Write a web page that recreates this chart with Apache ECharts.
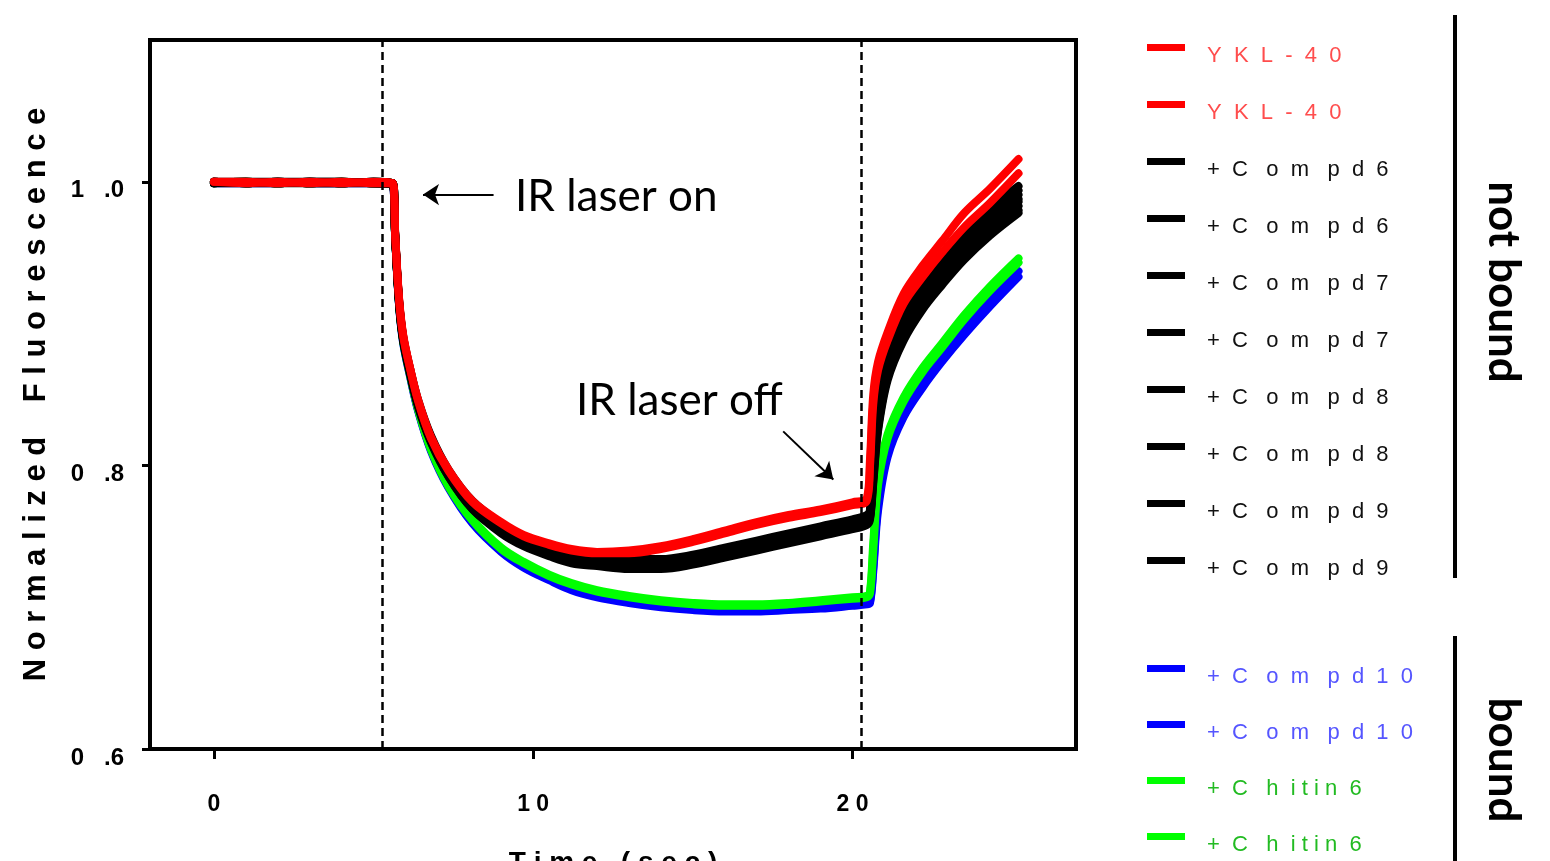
<!DOCTYPE html>
<html>
<head>
<meta charset="utf-8">
<title>Normalized fluorescence</title>
<script src="https://cdn.jsdelivr.net/npm/echarts@6/dist/echarts.min.js"></script>
<style>
  html, body { margin: 0; padding: 0; background: #fff; }
  #chart { width: 1550px; height: 861px; }
</style>
</head>
<body>
<div id="chart"></div>
<script>
// time points (sec), shared by every trace
const times = [0, 1, 2, 3, 4, 5, 5.6, 5.68, 5.8, 5.93, 6.15, 6.4, 6.8, 7.35, 8.1, 9, 9.7, 10.5, 11.2, 12,
  13, 14, 15, 16, 17, 18, 19, 20, 20.45, 20.55, 20.65, 20.8, 21.1, 21.6, 22.2, 22.8, 23.5, 24.3, 25.2];

// normalized fluorescence
const ykl40A = [1.000, 1.000, 0.999, 1.000, 0.999, 1.000, 0.999, 0.962, 0.917, 0.891, 0.868, 0.846, 0.820, 0.797, 0.775, 0.760, 0.751, 0.745, 0.741, 0.739,
  0.740, 0.743, 0.748, 0.754, 0.760, 0.765, 0.769, 0.774, 0.777, 0.805, 0.850, 0.873, 0.894, 0.921, 0.941, 0.958, 0.978, 0.995, 1.016];
const ykl40B = [1.000, 0.999, 1.000, 0.999, 1.000, 0.999, 0.999, 0.963, 0.918, 0.892, 0.868, 0.845, 0.819, 0.796, 0.774, 0.759, 0.750, 0.744, 0.740, 0.738,
  0.738, 0.741, 0.746, 0.752, 0.758, 0.763, 0.767, 0.772, 0.775, 0.800, 0.843, 0.867, 0.888, 0.914, 0.933, 0.950, 0.968, 0.985, 1.006];
const compd6A = [1.000, 0.999, 1.000, 0.999, 1.000, 0.999, 0.999, 0.962, 0.917, 0.891, 0.868, 0.846, 0.821, 0.797, 0.775, 0.759, 0.750, 0.743, 0.738, 0.736,
  0.734, 0.734, 0.737, 0.742, 0.747, 0.752, 0.757, 0.762, 0.765, 0.769, 0.806, 0.843, 0.879, 0.907, 0.929, 0.946, 0.964, 0.981, 0.997];
const compd6B = [0.999, 1.000, 0.999, 1.000, 0.999, 1.000, 0.999, 0.961, 0.916, 0.890, 0.867, 0.845, 0.820, 0.796, 0.773, 0.758, 0.749, 0.742, 0.737, 0.735,
  0.733, 0.733, 0.736, 0.741, 0.746, 0.751, 0.756, 0.761, 0.764, 0.768, 0.803, 0.840, 0.876, 0.904, 0.926, 0.943, 0.961, 0.978, 0.994];
const compd7A = [1.000, 0.999, 0.999, 1.000, 1.000, 0.999, 0.999, 0.962, 0.916, 0.890, 0.866, 0.844, 0.819, 0.795, 0.772, 0.757, 0.748, 0.741, 0.736, 0.734,
  0.732, 0.732, 0.735, 0.740, 0.745, 0.750, 0.755, 0.760, 0.763, 0.767, 0.800, 0.837, 0.873, 0.901, 0.923, 0.940, 0.958, 0.975, 0.991];
const compd7B = [0.999, 0.999, 1.000, 0.999, 0.999, 1.000, 0.998, 0.961, 0.915, 0.889, 0.866, 0.843, 0.818, 0.794, 0.771, 0.756, 0.747, 0.740, 0.735, 0.733,
  0.731, 0.731, 0.734, 0.739, 0.744, 0.749, 0.754, 0.759, 0.762, 0.766, 0.797, 0.834, 0.870, 0.898, 0.920, 0.937, 0.955, 0.972, 0.988];
const compd8A = [1.000, 1.000, 0.999, 0.999, 1.000, 0.999, 0.999, 0.960, 0.915, 0.889, 0.865, 0.843, 0.818, 0.793, 0.770, 0.755, 0.746, 0.739, 0.734, 0.732,
  0.730, 0.730, 0.733, 0.738, 0.743, 0.748, 0.753, 0.758, 0.761, 0.765, 0.795, 0.832, 0.868, 0.896, 0.918, 0.935, 0.953, 0.970, 0.986];
const compd8B = [0.999, 1.000, 1.000, 0.999, 0.999, 0.999, 0.998, 0.960, 0.914, 0.888, 0.865, 0.842, 0.817, 0.793, 0.770, 0.754, 0.745, 0.738, 0.733, 0.731,
  0.729, 0.729, 0.732, 0.737, 0.742, 0.747, 0.752, 0.757, 0.760, 0.764, 0.792, 0.829, 0.865, 0.893, 0.915, 0.932, 0.950, 0.967, 0.983];
const compd9A = [1.000, 0.999, 1.000, 1.000, 0.999, 1.000, 0.999, 0.961, 0.915, 0.888, 0.864, 0.842, 0.817, 0.792, 0.769, 0.753, 0.744, 0.737, 0.732, 0.730,
  0.728, 0.728, 0.731, 0.736, 0.741, 0.746, 0.751, 0.756, 0.759, 0.763, 0.789, 0.826, 0.862, 0.890, 0.912, 0.929, 0.947, 0.964, 0.980];
const compd9B = [0.999, 1.000, 0.999, 1.000, 1.000, 0.999, 0.998, 0.960, 0.914, 0.888, 0.864, 0.841, 0.816, 0.792, 0.769, 0.752, 0.743, 0.736, 0.731, 0.729,
  0.727, 0.727, 0.730, 0.735, 0.740, 0.745, 0.750, 0.755, 0.758, 0.762, 0.787, 0.824, 0.860, 0.888, 0.910, 0.927, 0.945, 0.962, 0.978];
const compd10A = [0.999, 0.999, 1.000, 0.999, 0.999, 1.000, 0.998, 0.960, 0.913, 0.887, 0.863, 0.839, 0.811, 0.785, 0.760, 0.740, 0.729, 0.720, 0.713, 0.708,
  0.704, 0.701, 0.699, 0.698, 0.698, 0.699, 0.700, 0.702, 0.703, 0.704, 0.728, 0.772, 0.810, 0.838, 0.859, 0.877, 0.896, 0.916, 0.937];
const compd10B = [1.000, 0.999, 0.999, 1.000, 0.999, 0.999, 0.999, 0.961, 0.913, 0.886, 0.862, 0.838, 0.810, 0.784, 0.759, 0.739, 0.728, 0.719, 0.712, 0.707,
  0.703, 0.700, 0.698, 0.697, 0.697, 0.698, 0.699, 0.701, 0.702, 0.703, 0.725, 0.768, 0.806, 0.834, 0.855, 0.873, 0.892, 0.912, 0.933];
const chitin6A = [1.000, 0.999, 1.000, 0.999, 1.000, 0.999, 0.999, 0.960, 0.914, 0.888, 0.864, 0.840, 0.812, 0.786, 0.762, 0.742, 0.732, 0.723, 0.717, 0.712,
  0.708, 0.705, 0.703, 0.702, 0.702, 0.703, 0.705, 0.707, 0.708, 0.711, 0.745, 0.790, 0.822, 0.848, 0.869, 0.886, 0.906, 0.926, 0.946];
const chitin6B = [0.999, 1.000, 0.999, 1.000, 0.999, 1.000, 0.999, 0.961, 0.914, 0.887, 0.863, 0.839, 0.811, 0.785, 0.761, 0.741, 0.731, 0.722, 0.716, 0.711,
  0.707, 0.704, 0.702, 0.701, 0.701, 0.702, 0.704, 0.706, 0.707, 0.710, 0.740, 0.786, 0.819, 0.845, 0.866, 0.883, 0.903, 0.923, 0.943];

// axis ticks
const xTicks = [0, 10, 20];
const xTickLabels = ['0', '1 0', '2 0'];
const yTicks = [0.6, 0.8, 1.0];
const yTickLabels = ['0   .6', '0   .8', '1   .0'];

// laser on / off moments (dashed lines)
const laserTimes = [5.28, 20.28];

// series: key, legend text, line colour, legend text colour
const notBound = [
  ['ykl40A', 'Y  K  L  -  4  0', ykl40A, '#ff0000', '#ff4d4d'],
  ['ykl40B', 'Y  K  L  -  4  0', ykl40B, '#ff0000', '#ff4d4d'],
  ['compd6A', '+  C   o  m   p  d  6', compd6A, '#000000', '#111111'],
  ['compd6B', '+  C   o  m   p  d  6', compd6B, '#000000', '#111111'],
  ['compd7A', '+  C   o  m   p  d  7', compd7A, '#000000', '#111111'],
  ['compd7B', '+  C   o  m   p  d  7', compd7B, '#000000', '#111111'],
  ['compd8A', '+  C   o  m   p  d  8', compd8A, '#000000', '#111111'],
  ['compd8B', '+  C   o  m   p  d  8', compd8B, '#000000', '#111111'],
  ['compd9A', '+  C   o  m   p  d  9', compd9A, '#000000', '#111111'],
  ['compd9B', '+  C   o  m   p  d  9', compd9B, '#000000', '#111111']
];
const bound = [
  ['compd10A', '+  C   o  m   p  d  1  0', compd10A, '#0000ff', '#5555ff'],
  ['compd10B', '+  C   o  m   p  d  1  0', compd10B, '#0000ff', '#5555ff'],
  ['chitin6A', '+  C   h  i t i n  6', chitin6A, '#00ff00', '#22bb22'],
  ['chitin6B', '+  C   h  i t i n  6', chitin6B, '#00ff00', '#22bb22']
];

const allTraces = notBound.concat(bound);
const legendText = {};
allTraces.forEach(t => { legendText[t[0]] = t[1]; });

// drawing order: blue, green, black, red on top
const drawOrder = ['compd10B', 'compd10A', 'chitin6B', 'chitin6A',
  'compd9B', 'compd9A', 'compd8B', 'compd8A', 'compd7B', 'compd7A', 'compd6B', 'compd6A',
  'ykl40B', 'ykl40A'];

const series = drawOrder.map(key => {
  const t = allTraces.find(s => s[0] === key);
  return {
    name: key,
    type: 'line',
    color: t[3],
    showSymbol: false,
    smooth: 0.35,
    lineStyle: { width: 8, color: t[3], cap: 'round', join: 'round' },
    data: times.map((x, i) => [x, t[2][i]])
  };
});

// dashed lines and the two arrows
series.push({
  name: 'marks',
  type: 'line',
  data: [],
  z: 10,
  markLine: {
    silent: true,
    animation: false,
    symbol: ['none', 'none'],
    label: { show: false },
    lineStyle: { color: '#000', type: [8, 5], width: 2.5 },
    data: laserTimes.map(v => ({ xAxis: v }))
  }
});
series.push({
  name: 'arrows',
  type: 'line',
  data: [],
  z: 10,
  markLine: {
    silent: true,
    animation: false,
    symbol: ['none', 'arrow'],
    symbolSize: 16,
    label: { show: false },
    lineStyle: { color: '#000', type: 'solid', width: 2 },
    data: [
      [{ coord: [8.76, 0.991] }, { coord: [6.55, 0.991] }],
      [{ coord: [17.83, 0.824] }, { coord: [19.4, 0.790] }]
    ]
  }
});

// legend swatch sits in the top of a taller icon box, so the text hangs a bit lower
const swatchIcon = 'path://M0,0L38,0L38,7L0,7Z M0,22.99L0.01,22.99L0.01,23L0,23Z';
const legendBase = {
  orient: 'vertical',
  left: 1147,
  padding: 0,
  icon: swatchIcon,
  itemWidth: 38,
  itemHeight: 23,
  selectedMode: false,
  formatter: name => legendText[name],
  textStyle: {
    fontFamily: 'Liberation Sans',
    fontSize: 22,
    lineHeight: 22,
    padding: [0, 0, 0, 17]
  }
};

const chart = echarts.init(document.getElementById('chart'));
chart.setOption({
  animation: false,
  backgroundColor: '#fff',
  grid: {
    left: 150, top: 40, right: 474, bottom: 112,
    outerBoundsMode: 'none',
    containLabel: false,
    show: true, borderColor: '#000', borderWidth: 4
  },
  legend: [
    Object.assign({}, legendBase, {
      top: 44, itemGap: 34,
      data: notBound.map(t => ({ name: t[0], textStyle: { color: t[4] } }))
    }),
    Object.assign({}, legendBase, {
      top: 665, itemGap: 33,
      data: bound.map(t => ({ name: t[0], textStyle: { color: t[4] } }))
    })
  ],
  xAxis: {
    type: 'value',
    min: -2, max: 27,
    name: 'T i m e   ( s e c )',
    nameLocation: 'middle',
    nameGap: 100,
    nameTextStyle: { fontFamily: 'Liberation Sans', fontWeight: 'bold', fontSize: 28, color: '#000' },
    splitLine: { show: false },
    axisLine: { show: true, onZero: false, lineStyle: { color: '#000', width: 4 } },
    axisTick: { show: true, length: 10, customValues: xTicks, lineStyle: { color: '#000', width: 3 } },
    axisLabel: {
      customValues: xTicks,
      margin: 44,
      fontFamily: 'Liberation Sans', fontWeight: 'bold', fontSize: 23, color: '#000',
      formatter: v => xTickLabels[xTicks.indexOf(v)]
    }
  },
  yAxis: {
    type: 'value',
    min: 0.6, max: 1.1,
    name: 'N o r m a l i z e d    F l u o r e s c e n c e',
    nameLocation: 'middle',
    nameRotate: 90,
    nameGap: 98,
    nameTextStyle: { fontFamily: 'Liberation Sans', fontWeight: 'bold', fontSize: 31, color: '#000' },
    splitLine: { show: false },
    axisLine: { show: true, onZero: false, lineStyle: { color: '#000', width: 4 } },
    axisTick: { show: true, length: 8, customValues: yTicks, lineStyle: { color: '#000', width: 3 } },
    axisLabel: {
      customValues: yTicks,
      margin: 26,
      verticalAlign: 'top',
      lineHeight: 18,
      fontFamily: 'Liberation Sans', fontWeight: 'bold', fontSize: 24, color: '#000',
      formatter: v => yTickLabels[yTicks.findIndex(t => Math.abs(t - v) < 1e-9)]
    }
  },
  graphic: [
    { type: 'text', left: 515, top: 175,
      style: { text: 'IR laser on', font: '44px Lato', fill: '#000' } },
    { type: 'text', left: 576, top: 379,
      style: { text: 'IR laser off', font: '44px Lato', fill: '#000' } },
    { type: 'line', shape: { x1: 1455, y1: 15, x2: 1455, y2: 578 },
      style: { stroke: '#000', lineWidth: 4 } },
    { type: 'line', shape: { x1: 1455, y1: 636, x2: 1455, y2: 861 },
      style: { stroke: '#000', lineWidth: 4 } },
    { type: 'text', x: 1503, y: 282, rotation: -Math.PI / 2,
      style: { text: 'not bound', font: 'bold 44px Lato', fill: '#000', align: 'center', verticalAlign: 'middle' } },
    { type: 'text', x: 1503, y: 760, rotation: -Math.PI / 2,
      style: { text: 'bound', font: 'bold 44px Lato', fill: '#000', align: 'center', verticalAlign: 'middle' } }
  ],
  series: series
});
</script>
</body>
</html>
